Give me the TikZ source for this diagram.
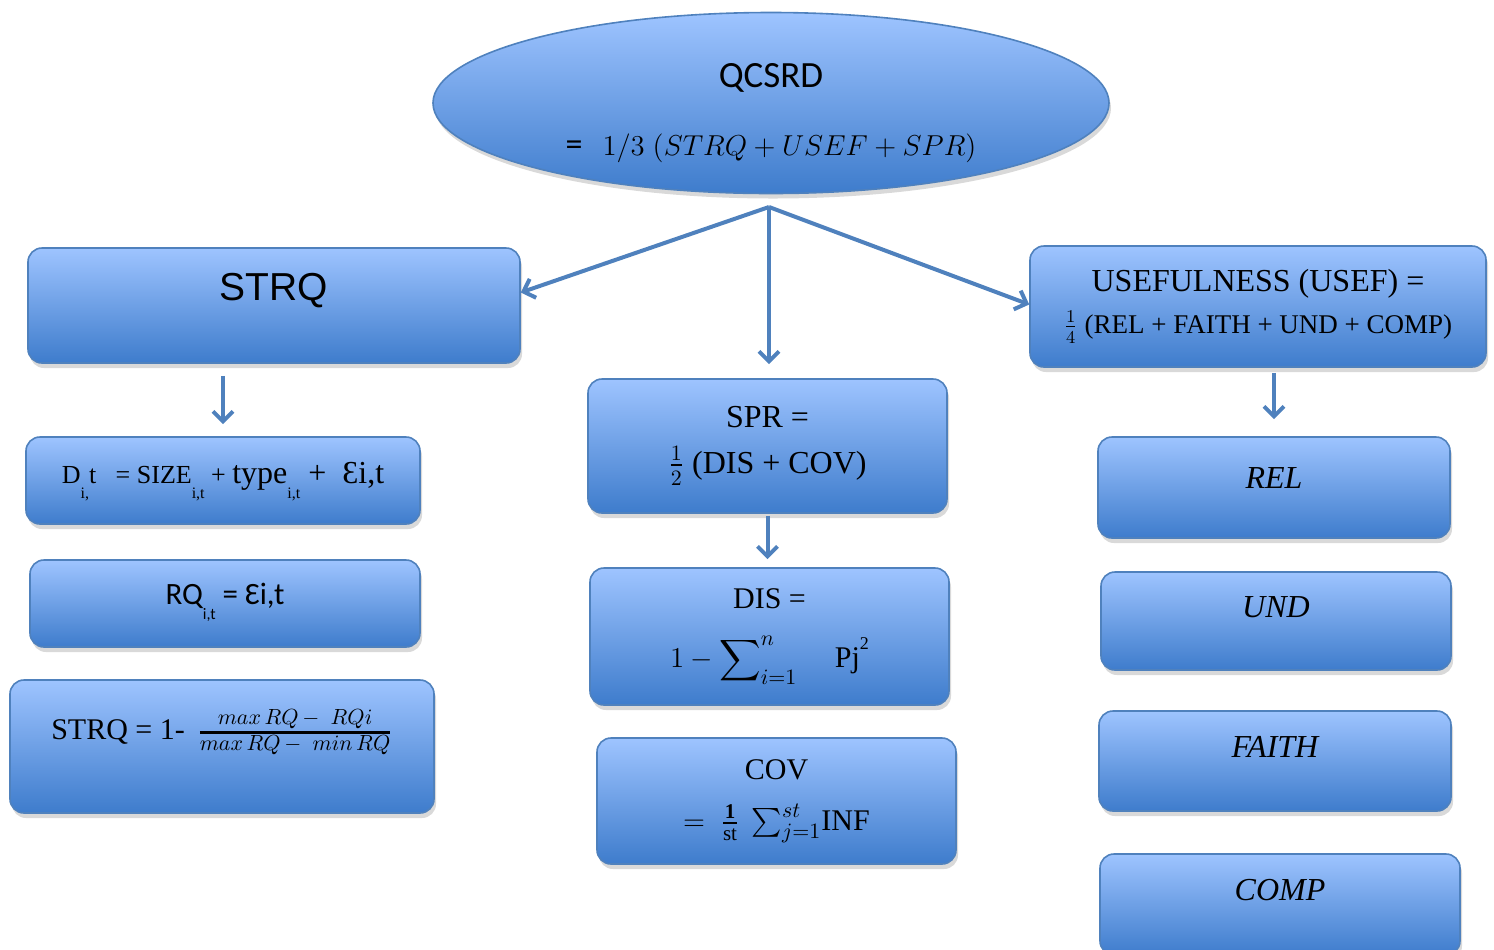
\documentclass[tikz,border=0pt]{standalone}
\usepackage{amsmath}
\usepackage{fontspec}
\setmainfont{Liberation Serif}
\setsansfont{Carlito}
\newfontfamily\arialfont{Liberation Sans}
\usetikzlibrary{arrows.meta,positioning,shapes.geometric,shadows}
\definecolor{boxtop}{RGB}{158,196,255}
\definecolor{boxbot}{RGB}{62,124,204}
\definecolor{edgeblue}{RGB}{79,129,189}
\newcommand{\setsz}[1]{\fontsize{#1}{#1}\selectfont}
\newcommand{\lowsub}[1]{\raisebox{-7.5pt}{\fontsize{8}{8}\selectfont #1}}

\begin{document}
\begin{tikzpicture}[
  x=0.5pt, y=-0.5pt,
  b/.style={draw=edgeblue, line width=0.8pt, rounded corners=7pt, top color=boxtop, bottom color=boxbot,
    drop shadow={shadow xshift=1pt, shadow yshift=-2.5pt, opacity=0.3}, align=center, inner sep=0pt},
  pf/.style={draw=edgeblue, line width=2pt, -{Straight Barb[length=5pt,width=10pt]}}
]
\useasboundingbox (0,0) rectangle (1494,949);
\node[b, ellipse, rounded corners=0pt, minimum width=338pt, minimum height=90.5pt] (qcsrd) at (771,103)
  {\rule{0pt}{22pt}{\sffamily\setsz{18.5}QCSRD}\\[20pt]{\sffamily\setsz{17}=}\quad{\setsz{14.5}$1/3\;(STRQ+USEF+SPR)$}};
\node[b, minimum width=246pt, minimum height=57.5pt, text height=14pt, text depth=19.5pt] (strq) at (274,305.5)
  {\arialfont\setsz{19.5}STRQ};
\node[b, minimum width=228pt, minimum height=60.5pt] (usef) at (1258,306.5)
  {\setsz{16}USEFULNESS (USEF) =\\[5pt]\setsz{13.5}$\frac{1}{4}$ (REL + FAITH + UND + COMP)};
\node[b, minimum width=179.5pt, minimum height=67pt] (spr) at (767.5,446)
  {\setsz{16}SPR =\\[8pt]\setsz{16}$\frac{1}{2}$ (DIS + COV)};
\node[b, minimum width=197pt, minimum height=43.5pt, text height=9pt, text depth=6pt] (dit) at (223,480.5)
  {{\setsz{13}D\lowsub{i,}t \ \ = SIZE\lowsub{i,t} + }{\setsz{16}type\lowsub{i,t} + \ Ɛi,t}};
\node[b, minimum width=195pt, minimum height=43.5pt, text height=10pt, text depth=9pt] (rq) at (225,603.5)
  {\sffamily\setsz{15.5}RQ\lowsub{i,t} = Ɛi,t};
\node[b, minimum width=212pt, minimum height=66.5pt, text height=8pt, text depth=15pt] (strqf) at (222,746.5)
  {\setsz{15}STRQ = 1- \,$\genfrac{}{}{1.2pt}{}{max\,RQ\,-\ \,RQi}{max\,RQ\,-\ \,min\,RQ}$};
\node[b, minimum width=179.5pt, minimum height=68.5pt] (dis) at (769.5,636.5)
  {\setsz{15}DIS =\\[13pt]\setsz{15}$\displaystyle 1-\sum\nolimits_{i=1}^{n}$\quad\ Pj\raisebox{9pt}{\setsz{9}2}};
\node[b, minimum width=179.5pt, minimum height=63pt] (cov) at (776.5,801)
  {\setsz{15}COV\\[11pt]\setsz{15}$=\ \frac{\mathbf{1}}{\mathrm{st}}\ \sum_{j=1}^{st}$INF};
\node[b, minimum width=176pt, minimum height=50.5pt, text height=10.5pt, text depth=10pt] (rel) at (1274,487.5)
  {\setsz{16}\itshape REL};
\node[b, minimum width=175pt, minimum height=49pt, text height=10.5pt, text depth=14pt] (und) at (1276,621)
  {\setsz{16}\itshape UND};
\node[b, minimum width=176pt, minimum height=50pt, text height=10.5pt, text depth=14pt] (faith) at (1275,761)
  {\setsz{16}\itshape FAITH};
\node[b, minimum width=180pt, minimum height=50.5pt, text height=10.5pt, text depth=15pt] (comp) at (1280,904.5)
  {\setsz{16}\itshape COMP};
\coordinate (hub) at (769,207);
\draw[pf] (hub) -- ([yshift=6.5pt]strq.east);
\draw[pf, shorten >=7pt] (hub) -- (hub |- spr.north);
\draw[pf] (hub) -- ([yshift=1pt]usef.west);
\draw[pf, shorten <=6pt, shorten >=6pt] (dit.north |- strq.south) -- (dit.north);
\draw[pf, shorten <=1pt, shorten >=4pt] (spr.south) -- (spr.south |- dis.north);
\draw[pf, shorten <=2.5pt, shorten >=8.5pt] (rel.north |- usef.south) -- (rel.north);
\end{tikzpicture}
\end{document}
